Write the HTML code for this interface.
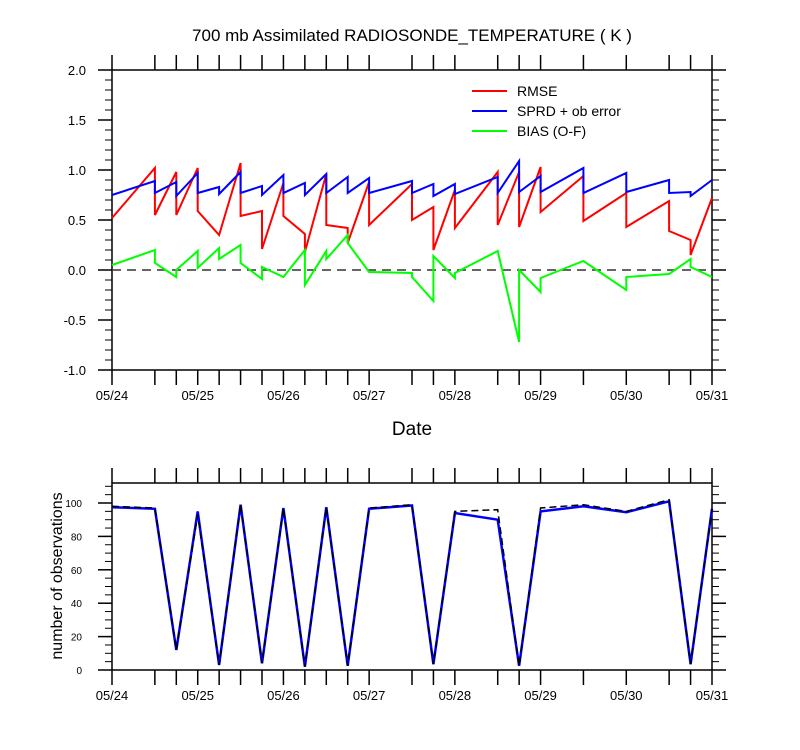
<!DOCTYPE html>
<html><head><meta charset="utf-8"><style>
html,body{margin:0;padding:0;background:#fff;}
svg{display:block;font-family:"Liberation Sans",sans-serif;}
</style></head><body>
<svg id="c" width="800" height="750" viewBox="0 0 800 750">
<text x="412" y="41" font-size="17" text-anchor="middle">700 mb Assimilated RADIOSONDE_TEMPERATURE ( K )</text>
<text x="412" y="435" font-size="19" text-anchor="middle">Date</text>
<text transform="translate(62,576) rotate(-90)" font-size="16" text-anchor="middle">number of observations</text>
<g>
<line x1="472" y1="91" x2="507" y2="91" stroke="#f00" stroke-width="2"/>
<text x="517" y="96" font-size="14">RMSE</text>
<line x1="472" y1="111" x2="507" y2="111" stroke="#00f" stroke-width="2"/>
<text x="517" y="116" font-size="14">SPRD + ob error</text>
<line x1="472" y1="131" x2="507" y2="131" stroke="#0f0" stroke-width="2"/>
<text x="517" y="136" font-size="14">BIAS (O-F)</text>
</g>
</svg>
<script>
const tickTimes=[0,0.5,0.75,1,1.25,1.5,1.75,2,2.25,2.5,2.75,3,3.5,3.75,4,4.5,4.75,5,5.5,6,6.5,6.75,7];
const dateLabels=["05/24","05/25","05/26","05/27","05/28","05/29","05/30","05/31"];
const rmseT=[0,0.5,0.5,0.75,0.75,1,1,1.25,1.5,1.5,1.75,1.75,2,2,2.25,2.25,2.5,2.5,2.75,2.75,3,3,3.5,3.5,3.75,3.75,4,4,4.5,4.5,4.75,4.75,5,5,5.5,5.5,6,6,6.5,6.5,6.75,6.75,7];
const rmseV=[0.52,1.02,0.55,0.98,0.55,1.02,0.59,0.35,1.07,0.54,0.59,0.21,0.87,0.54,0.36,0.18,0.96,0.45,0.42,0.27,0.88,0.45,0.86,0.50,0.63,0.20,0.80,0.42,0.98,0.45,0.98,0.43,1.03,0.58,0.94,0.49,0.77,0.43,0.69,0.39,0.30,0.15,0.72];
const sprdT=[0,0.5,0.5,0.75,0.75,1,1,1.25,1.25,1.5,1.5,1.75,1.75,2,2,2.25,2.25,2.5,2.5,2.75,2.75,3,3,3.5,3.5,3.75,3.75,4,4,4.5,4.5,4.75,4.75,5,5,5.5,5.5,6,6,6.5,6.5,6.75,6.75,7];
const sprdV=[0.75,0.89,0.77,0.88,0.74,0.97,0.77,0.83,0.76,0.98,0.77,0.84,0.75,0.95,0.77,0.87,0.75,0.96,0.77,0.93,0.77,0.92,0.77,0.89,0.77,0.86,0.74,0.86,0.76,0.93,0.77,1.09,0.78,0.94,0.78,1.02,0.77,0.97,0.78,0.90,0.77,0.78,0.74,0.90];
const biasT=[0,0.5,0.5,0.75,0.75,1,1,1.25,1.25,1.5,1.5,1.75,1.75,2,2.25,2.25,2.5,2.5,2.75,2.75,3,3.5,3.5,3.75,3.75,4,4,4.5,4.75,4.75,5,5,5.5,6,6,6.5,6.75,6.75,7];
const biasV=[0.05,0.20,0.07,-0.07,0.0,0.19,0.02,0.22,0.11,0.25,0.07,-0.09,0.03,-0.07,0.20,-0.15,0.19,0.11,0.35,0.27,-0.02,-0.03,-0.07,-0.31,0.14,-0.08,-0.03,0.19,-0.72,0.0,-0.22,-0.08,0.09,-0.20,-0.07,-0.04,0.11,0.03,-0.07];
const obsT=[0,0.5,0.75,1,1.25,1.5,1.75,2,2.25,2.5,2.75,3,3.5,3.75,4,4.5,4.75,5,5.5,6,6.5,6.75,7];
const obsUsed=[97.5,96.5,12,95,3,99,4,97,2,97.5,2.5,96.5,98.5,3.5,94,90,2.5,95,98,94.5,101,3.5,96.5];
const obsPoss=[98,97,12,93,3,99,4,97,2,97.5,2.5,97,99,3.5,95,96,2.5,97,99,95,102,3.5,96.5];
const topTicks=[-1.0,-0.5,0.0,0.5,1.0,1.5,2.0];
const botTicks=[0,20,40,60,80,100];

const svg=document.getElementById('c');
const NS='http://www.w3.org/2000/svg';
function mk(tag,attrs,parent){const e=document.createElementNS(NS,tag);for(const k in attrs)e.setAttribute(k,attrs[k]);(parent||svg).appendChild(e);return e;}
const X0=112,X1=712;
const xs=t=>X0+t*(X1-X0)/7;
const ysTop=v=>370-(v+1)*100;
const ysBot=v=>670-v*(670-503)/100;
const path=(T,V,ys)=>T.map((t,i)=>(i?'L':'M')+xs(t).toFixed(1)+' '+ys(V[i]).toFixed(1)).join(' ');

function axes(top,bot,ys,yTicks,minorStep,ymin,ymax,fmt,prefix){
  const g=mk('g',{});
  
  
  const fr=mk('rect',{x:X0,y:top,width:X1-X0,height:bot-top,fill:'none',stroke:'#000','stroke-width':1.5},g);
  
  
  tickTimes.forEach(t=>{
    mk('line',{x1:xs(t),x2:xs(t),y1:top,y2:top-15,stroke:'#000','stroke-width':1.5},g);
    mk('line',{x1:xs(t),x2:xs(t),y1:bot,y2:bot+15,stroke:'#000','stroke-width':1.5},g);
  });
  dateLabels.forEach((d,i)=>{
    const tx=mk('text',{x:xs(i),y:bot+30,'font-size':13,'text-anchor':'middle'},g);
    tx.textContent=d;
    
    
  });
  for(let v=ymin;v<=ymax+1e-9;v+=minorStep){
    mk('line',{x1:X0,x2:X0-7,y1:ys(v),y2:ys(v),stroke:'#000','stroke-width':1},g);
    mk('line',{x1:X1,x2:X1+7,y1:ys(v),y2:ys(v),stroke:'#000','stroke-width':1},g);
  }
  yTicks.forEach(v=>{
    mk('line',{x1:X0,x2:X0-14,y1:ys(v),y2:ys(v),stroke:'#000','stroke-width':1.5},g);
    mk('line',{x1:X1,x2:X1+14,y1:ys(v),y2:ys(v),stroke:'#000','stroke-width':1.5},g);
    const tx=mk('text',{x:X0-(prefix==='top'?26:30),y:ys(v)+(prefix==='top'?5:4),'font-size':prefix==='top'?13:10,'text-anchor':'end'},g);
    tx.textContent=fmt(v);
    
    
  });
}
axes(70,370,ysTop,topTicks,0.1,-1,2,v=>v.toFixed(1),'top');
axes(483,670,ysBot,botTicks,5,0,110,v=>String(v),'bottom');

const zl=mk('line',{x1:X0,x2:X1,y1:ysTop(0),y2:ysTop(0),stroke:'#333','stroke-width':1.5,'stroke-dasharray':'9 6'});



const r=mk('path',{d:path(rmseT,rmseV,ysTop),fill:'none',stroke:'#f00','stroke-width':2,'stroke-linejoin':'miter'});


const s=mk('path',{d:path(sprdT,sprdV,ysTop),fill:'none',stroke:'#00f','stroke-width':2});


const b=mk('path',{d:path(biasT,biasV,ysTop),fill:'none',stroke:'#0f0','stroke-width':2});



const ou=mk('path',{d:path(obsT,obsUsed,ysBot),fill:'none',stroke:'#00f','stroke-width':2.5});


const op=mk('path',{d:path(obsT,obsPoss,ysBot),fill:'none',stroke:'#000','stroke-width':1.5,'stroke-dasharray':'7 4'});


</script>
</body></html>
